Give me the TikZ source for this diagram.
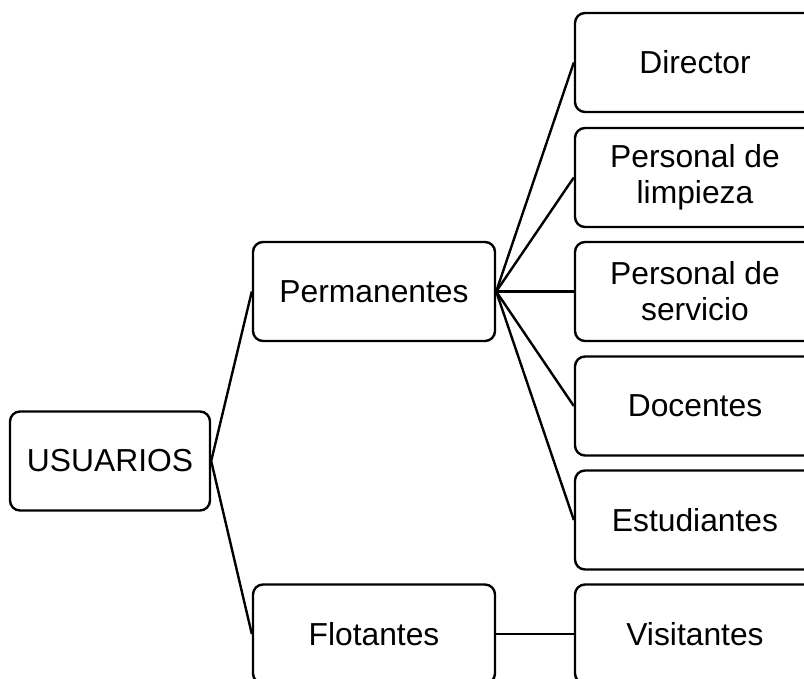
\documentclass[tikz,border=0pt]{standalone}
\usepackage{fontspec}
\setmainfont{Liberation Sans}
\usepackage{tikz}

\begin{document}
\begin{tikzpicture}[x=0.5pt, y=-0.5pt, line width=1.2pt,
  every node/.style={font=\fontsize{15.9}{18}\selectfont},
  userbox/.style={draw, rounded corners=5pt, align=center, minimum height=49.5pt, inner sep=2pt}]
  \clip (0,0) rectangle (804,679);
  \node[userbox, minimum width=100pt] (usuarios) at (110,461) {USUARIOS};
  \node[userbox, minimum width=121pt] (perm) at (374,291.5) {Permanentes};
  \node[userbox, minimum width=121pt] (flot) at (374,634) {Flotantes};
  \node[userbox, minimum width=120pt] (director) at (695,62.5) {Director};
  \node[userbox, minimum width=120pt] (limpieza) at (695,177.5) {Personal de\\limpieza};
  \node[userbox, minimum width=120pt] (servicio) at (695,291.5) {Personal de\\servicio};
  \node[userbox, minimum width=120pt] (docentes) at (695,406) {Docentes};
  \node[userbox, minimum width=120pt] (estudiantes) at (695,520) {Estudiantes};
  \node[userbox, minimum width=120pt] (visitantes) at (695,634) {Visitantes};
  \draw (usuarios.east) -- (perm.west);
  \draw (usuarios.east) -- (flot.west);
  \foreach \n in {director, limpieza, servicio, docentes, estudiantes}
    \draw (perm.east) -- (\n.west);
  \draw (flot.east) -- (visitantes.west);
\end{tikzpicture}
\end{document}
